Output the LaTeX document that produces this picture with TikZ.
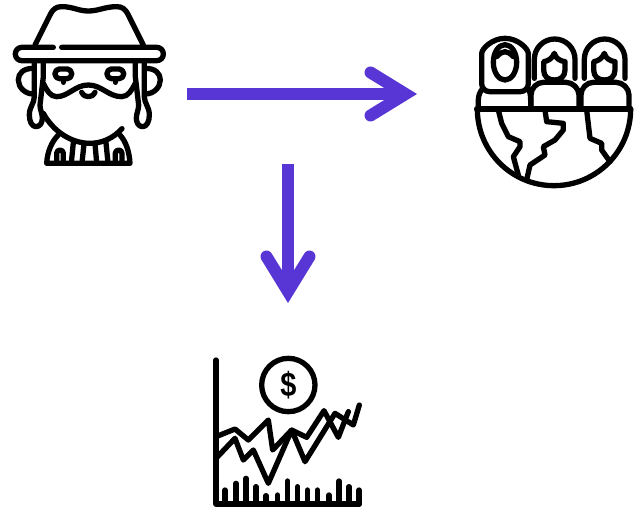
\documentclass[tikz,border=0pt]{standalone}
\usepackage{fontspec}
\setsansfont{Liberation Sans}
\usetikzlibrary{arrows.meta}
\definecolor{flowblue}{HTML}{5736D5}

\begin{document}
\begin{tikzpicture}[x=1pt,y=-1pt,line width=5.3pt,line cap=round,line join=round,
    flow/.style={draw=flowblue,line width=12pt,line cap=butt,
      -{Straight Barb[length=35pt,width=43pt,line width=12pt,line cap=round,line join=miter]}}]
  \useasboundingbox (0,0) rectangle (641,512);
  \coordinate (rabbi) at (187,94);  \coordinate (people) at (417,94);
  \coordinate (split) at (288,164); \coordinate (market) at (288,303);
  \draw[flow] (rabbi) -- (people);
  \draw[flow] (split) -- (market);
  % man with hat
  \begin{scope}[scale=1/3]
    \draw (105,135) -- (150,45) .. controls (160,25) and (170,20) .. (185,20) .. controls (220,20) and (235,33) .. (265,33) .. controls (295,33) and (315,20) .. (350,20) .. controls (365,20) and (375,25) .. (385,45) -- (430,135);
    \draw[rounded corners=6.5pt] (160,142) -- (46,142) -- (46,182) -- (490,182) -- (490,142) -- (185,142);
    \foreach \dx/\sx in {0/1,536/-1} {
      \begin{scope}[xshift=\dx pt,xscale=\sx]
        \draw (103,188) -- (103,290) .. controls (103,310) and (88,320) .. (88,345) .. controls (88,365) and (96,380) .. (108,380) .. controls (120,380) and (127,368) .. (127,355) .. controls (127,340) and (120,330) .. (120,315) -- (130,230) -- (130,188);
        \draw (100,205) .. controls (70,205) and (55,220) .. (55,240) .. controls (55,262) and (75,282) .. (100,282);
        \draw[rounded corners=4.5pt] (190,207) -- (165,207) -- (165,236) -- (215,236) -- (215,207) -- cycle;
        \draw (190,238) -- (190,247);
        \draw (170,488) -- (170,460) arc[start angle=180,end angle=360,radius=10] -- (190,488);
      \end{scope}
    }
    \draw (130,250) .. controls (140,270) and (150,290) .. (170,290) .. controls (205,290) and (225,255) .. (265,255) .. controls (305,255) and (325,290) .. (365,290) .. controls (385,290) and (395,270) .. (406,250);
    \draw (245,277) .. controls (250,287) and (258,290) .. (265,290) .. controls (272,290) and (280,287) .. (285,277);
    \draw (130,340) .. controls (160,395) and (215,430) .. (270,430) .. controls (305,430) and (340,415) .. (366,386);
    \draw (175,405) .. controls (155,425) and (142,455) .. (140,490) -- (390,490) .. controls (388,455) and (378,425) .. (360,405);
    \draw (220,428) -- (214,488);
    \draw (252,432) -- (246,488);
    \draw (285,432) -- (290,488);
    \draw (318,428) -- (324,488);
  \end{scope}
  % people on the globe
  \begin{scope}[shift={(465,25)},scale=1/3]
    \draw (35,252) -- (497,252);
    \draw (37,252) arc[start angle=180,end angle=0,radius=230];
    \draw[rounded corners=8pt] (50,110) arc[start angle=180,end angle=360,radius=70] -- (190,200) -- (50,200) -- cycle;
    \draw (40,245) -- (40,225) .. controls (40,212) and (45,200) .. (52,192);
    \draw (197,245) -- (197,225) .. controls (197,212) and (195,200) .. (190,190);
    \draw (120,112) ellipse[x radius=35,y radius=53];
    \draw (95,95) .. controls (105,85) and (112,80) .. (120,80) .. controls (128,80) and (135,85) .. (145,95);
    \foreach \dx in {0,150} {
      \begin{scope}[xshift=\dx pt]
        \draw (198,245) -- (198,210) .. controls (198,190) and (215,172) .. (235,172) -- (303,172) .. controls (323,172) and (342,190) .. (342,210) -- (342,245);
        \draw (208,160) -- (208,103) arc[start angle=180,end angle=360,radius=61] -- (330,160);
        \draw (236,110) -- (236,135) .. controls (236,155) and (250,165) .. (268,165) .. controls (286,165) and (300,155) .. (300,135) -- (300,110) .. controls (285,108) and (272,100) .. (268,85) .. controls (262,100) and (250,108) .. (236,110) -- cycle;
      \end{scope}
    }
    \draw (100,255) -- (110,295) -- (130,335) -- (165,350) -- (165,365) -- (145,395) -- (160,450);
    \draw (240,255) -- (245,290) -- (295,295) -- (295,315) -- (270,345) -- (235,365) -- (240,390) -- (195,420) -- (185,465);
    \draw (365,255) -- (375,340) -- (410,355) -- (410,375) -- (435,410);
  \end{scope}
  % chart with coin
  \begin{scope}[shift={(200,350)},scale=1/3]
    \draw (48,30) -- (48,462) -- (478,462);
    \draw (265,105) circle[radius=80];
    \node[font=\sffamily\bfseries\fontsize{34}{34}\selectfont,inner sep=0pt,xscale=.85] (coin) at (265,105) {\$};
    \draw (48,260) -- (105,237) -- (145,270) -- (205,210) -- (218,300) -- (275,240) -- (320,262) -- (372,182) -- (415,262) -- (445,185);
    \draw (48,325) -- (105,265) -- (130,330) -- (160,300) -- (205,400) -- (275,240) -- (315,335) -- (405,190) -- (460,225) -- (478,165);
    \foreach \x/\y in {75/420,108/400,138/385,168/410,198/437,233/435,263/393,293/410,322/420,352/420,387/435,417/393,447/410,477/420}
      \draw (\x,462) -- (\x,\y);
  \end{scope}
\end{tikzpicture}
\end{document}
